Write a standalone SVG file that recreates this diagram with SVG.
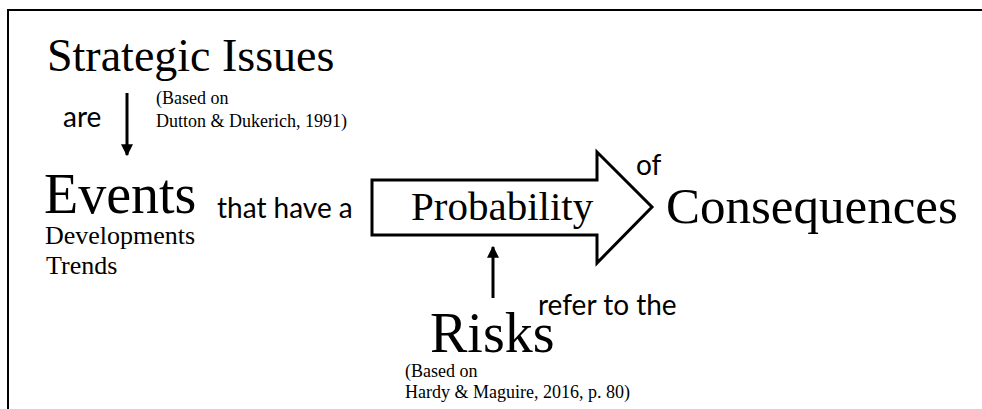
<svg xmlns="http://www.w3.org/2000/svg" width="982" height="409" viewBox="0 0 982 409">
<defs>
<style>
.serif{font-family:"Liberation Serif","Times New Roman",serif;fill:#000}
.sans{font-family:Lato,"Open Sans","Liberation Sans",sans-serif;fill:#000;font-size:28px}
.ln{stroke:#000;stroke-width:3;fill:none}
</style>
<marker id="ah" viewBox="0 0 10 10" refX="9" refY="5" markerWidth="4" markerHeight="4" orient="auto" markerUnits="strokeWidth">
<path d="M0,0 L10,5 L0,10 z" fill="#000"/>
</marker>
</defs>
<rect width="982" height="409" fill="#fff"/>
<path d="M8,409 V10 H982" stroke="#000" stroke-width="2" fill="none"/>
<g id="strategic-issues"><text class="serif" x="47" y="71" font-size="46">Strategic Issues</text></g>
<g id="dutton-ref"><text class="serif" font-size="18"><tspan x="156" y="104">(Based on</tspan><tspan x="156" y="127">Dutton &amp; Dukerich, 1991)</tspan></text></g>
<g id="events">
<text class="serif" x="44" y="213" font-size="56">Events</text>
<text class="serif" font-size="26"><tspan x="45" y="244">Developments</tspan><tspan x="46" y="274">Trends</tspan></text>
</g>
<g id="probability">
<path d="M372,180 H597 V152 L652,207 L597,263 V235 H372 Z" stroke="#000" stroke-width="3" fill="#fff" stroke-linejoin="miter"/>
<text class="serif" x="411" y="220" font-size="41">Probability</text>
</g>
<g id="consequences"><text class="serif" x="666" y="223" font-size="51">Consequences</text></g>
<g id="risks"><text class="serif" x="430" y="352" font-size="56">Risks</text></g>
<g id="hardy-ref"><text class="serif" font-size="18"><tspan x="405" y="377">(Based on</tspan><tspan x="405" y="398">Hardy &amp; Maguire, 2016, p. 80)</tspan></text></g>
<g id="connectors">
<line class="ln" x1="127" y1="93" x2="127" y2="155" marker-end="url(#ah)"/>
<line class="ln" x1="493" y1="298" x2="493" y2="247" marker-end="url(#ah)"/>
<text class="sans" x="63" y="127">are</text>
<text class="sans" x="217" y="218">that have a</text>
<text class="sans" x="636" y="175">of</text>
<text class="sans" x="538" y="315">refer to the</text>
</g>
</svg>
